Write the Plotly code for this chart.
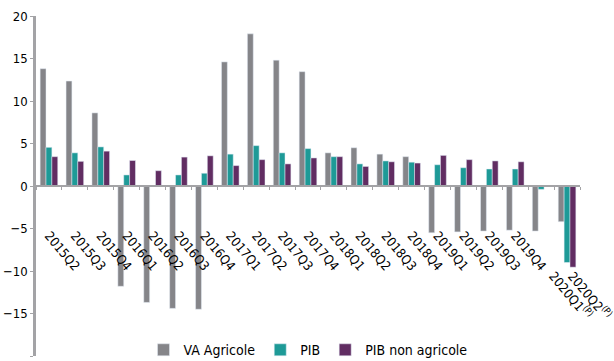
import plotly.graph_objects as go

# trimestres
quarters = ["2015Q2", "2015Q3", "2015Q4",
            "2016Q1", "2016Q2", "2016Q3", "2016Q4",
            "2017Q1", "2017Q2", "2017Q3", "2017Q4",
            "2018Q1", "2018Q2", "2018Q3", "2018Q4",
            "2019Q1", "2019Q2", "2019Q3", "2019Q4",
            "2020Q1(P)", "2020Q2(P)"]

# croissance en %
va_agricole = [13.8, 12.35, 8.6, -11.8, -13.7, -14.4, -14.5,
               14.6, 17.9, 14.8, 13.45, 3.9, 4.5, 3.75, 3.45,
               -5.5, -5.4, -5.3, -5.2, -5.3, -4.2]
pib = [4.55, 3.9, 4.6, 1.3, 0.0, 1.3, 1.5,
       3.75, 4.75, 3.9, 4.4, 3.45, 2.6, 2.95, 2.8,
       2.5, 2.15, 2.0, 2.0, -0.4, -9.0]
pib_non_agricole = [3.45, 2.9, 4.1, 3.0, 1.8, 3.4, 3.55,
                    2.4, 3.1, 2.6, 3.3, 3.45, 2.3, 2.85, 2.7,
                    3.6, 3.1, 2.95, 2.85, None, -9.55]

y_ticks = [-20, -15, -10, -5, 0, 5, 10, 15, 20]

FONT = "DejaVu Sans Condensed, Liberation Sans Narrow, Roboto, sans-serif"
AXIS_GREY = "#a3a3a6"

# les trimestres provisoires (P) sont posés plus bas, en annotations
tick_text = ["" if q.endswith("(P)") else q for q in quarters]
provisional = [q for q in quarters if q.endswith("(P)")]

fig = go.Figure()
fig.add_trace(go.Bar(x=quarters, y=va_agricole, name="VA Agricole",
                     marker_color="#858589"))
fig.add_trace(go.Bar(x=quarters, y=pib, name="PIB",
                     marker_color="#1e9a97"))
fig.add_trace(go.Bar(x=quarters, y=pib_non_agricole, name="PIB non agricole",
                     marker_color="#612d62"))

for q, dx in zip(provisional, [2, -5]):
    fig.add_annotation(x=q, y=0, xref="x", yref="y",
                       text=q[:-3] + "<sup>(P)</sup>", showarrow=False,
                       textangle=50, xanchor="left", yanchor="top",
                       xshift=dx, yshift=-79, font=dict(size=13))

fig.update_layout(
    width=614, height=361,
    margin=dict(l=36, r=34, t=16, b=5, autoexpand=False),
    paper_bgcolor="white", plot_bgcolor="white",
    font=dict(family=FONT, size=14, color="black"),
    barmode="group", bargap=0.32, bargroupgap=0,
    showlegend=True,
    legend=dict(orientation="h", x=0.5, xanchor="center",
                y=-0.03, yanchor="bottom",
                font=dict(size=14), itemwidth=30, traceorder="normal",
                bgcolor="rgba(0,0,0,0)"),
)

fig.update_xaxes(
    type="category", anchor="free", position=0.5, automargin=False,
    range=[-0.5, len(quarters) - 0.5],
    tickvals=quarters, ticktext=tick_text, tickangle=50,
    showline=True, linecolor=AXIS_GREY, linewidth=2,
    ticks="outside", tickson="boundaries", ticklen=3, tickcolor=AXIS_GREY,
    ticklabelstandoff=36, tickfont=dict(size=13),
    showgrid=False, zeroline=False,
)
fig.update_yaxes(
    range=[-20, 20], tickvals=y_ticks, automargin=False,
    showline=True, linecolor=AXIS_GREY, linewidth=2.5,
    ticks="outside", ticklen=3, tickcolor=AXIS_GREY,
    showgrid=False, zeroline=False, tickfont=dict(size=13),
)

# page sans marge pour que la figure commence au coin
fig.write_html("out.html", config={"displayModeBar": False},
               post_script="document.body.style.margin='0';")
